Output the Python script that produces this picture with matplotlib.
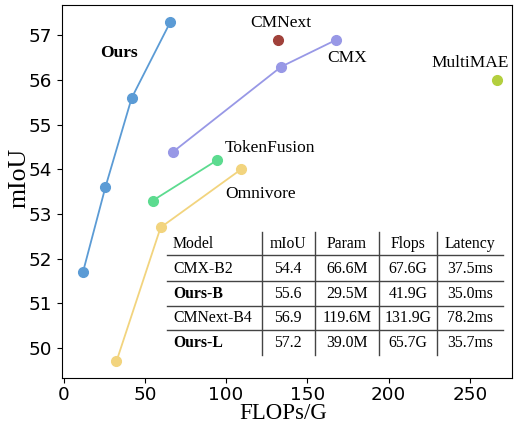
import matplotlib
matplotlib.use("Agg")
import matplotlib.pyplot as plt

# data (FLOPs in G, mIoU)
ours_flops = [11.9, 25.7, 41.9, 65.7]
ours_miou = [51.7, 53.6, 55.6, 57.3]
cmx_flops = [67.6, 134.0, 167.8]
cmx_miou = [54.4, 56.3, 56.9]
tokenfusion_flops = [54.8, 94.2]
tokenfusion_miou = [53.3, 54.2]
omnivore_flops = [32.5, 59.7, 109.2]
omnivore_miou = [49.7, 52.7, 54.0]
cmnext_flops = [131.9]
cmnext_miou = [56.9]
multimae_flops = [267.0]
multimae_miou = [56.0]

table_header = ["Model", "mIoU", "Param", "Flops", "Latency"]
table_rows = [
    ["CMX-B2", "54.4", "66.6M", "67.6G", "37.5ms"],
    ["Ours-B", "55.6", "29.5M", "41.9G", "35.0ms"],
    ["CMNext-B4", "56.9", "119.6M", "131.9G", "78.2ms"],
    ["Ours-L", "57.2", "39.0M", "65.7G", "35.7ms"],
]
bold_rows = {"Ours-B", "Ours-L"}

SERIF = "Liberation Serif"
W, H = 514, 423

fig = plt.figure(figsize=(W / 100, H / 100), dpi=100)
ax = fig.add_axes([62 / W, 1 - 378 / H, (512 - 62) / W, (378 - 5) / H])

kw = dict(marker="o", markersize=7, lw=1.3)
ax.plot(ours_flops, ours_miou, color="#5b9bd5", **kw)
ax.plot(cmx_flops, cmx_miou, color="#9898e6", **kw)
ax.plot(tokenfusion_flops, tokenfusion_miou, color="#5cdb8f", **kw)
ax.plot(omnivore_flops, omnivore_miou, color="#f2d47e", **kw)
ax.plot(cmnext_flops, cmnext_miou, ls="none", color="#a0413a", marker="o", markersize=7)
ax.plot(multimae_flops, multimae_miou, ls="none", color="#b3cf3e", marker="o", markersize=7)

tfs = 12.5
ax.text(34.3, 56.6, "Ours", fontsize=tfs, fontweight="bold", family=SERIF, ha="center", va="center")
ax.text(133.4, 57.28, "CMNext", fontsize=tfs, family=SERIF, ha="center", va="center")
ax.text(174.6, 56.5, "CMX", fontsize=tfs, family=SERIF, ha="center", va="center")
ax.text(250.0, 56.38, "MultiMAE", fontsize=tfs, family=SERIF, ha="center", va="center")
ax.text(99.0, 54.47, "TokenFusion", fontsize=tfs, family=SERIF, ha="left", va="center")
ax.text(99.5, 53.46, "Omnivore", fontsize=tfs, family=SERIF, ha="left", va="center")

ax.set_xlim(-1, 276)
ax.set_ylim(49.33, 57.68)
ax.set_xticks([0, 50, 100, 150, 200, 250])
ax.set_yticks([50, 51, 52, 53, 54, 55, 56, 57])
ax.tick_params(labelsize=13.2)
ax.tick_params(axis="x", pad=2)
ax.set_xlabel("FLOPs/G", fontsize=16.5, family=SERIF)
ax.set_ylabel("mIoU", fontsize=18.5, family=SERIF)
ax.xaxis.set_label_coords(0.491, -0.068)
ax.yaxis.set_label_coords(-0.071, 0.536)

# table drawn in pixel space (figure fraction)
def fx(px):
    return px / W

def fy(py):
    return 1 - py / H

col_x = [173, 288, 347, 408, 470]
col_ha = ["left", "center", "center", "center", "center"]
row_y = [244, 269, 294, 318, 343]
hlines = [255, 281, 306, 330]
vlines = [262, 315, 379, 437]
cfs = 11.3

for x, ha, t in zip(col_x, col_ha, table_header):
    fig.text(fx(x), fy(row_y[0]), t, fontsize=cfs, family=SERIF, ha=ha, va="center")
for y, row in zip(row_y[1:], table_rows):
    wt = "bold" if row[0] in bold_rows else "normal"
    for i, (x, ha, t) in enumerate(zip(col_x, col_ha, row)):
        fig.text(fx(x), fy(y), t, fontsize=cfs, family=SERIF, ha=ha, va="center",
                 fontweight=wt if i == 0 else "normal")
for y in hlines:
    fig.add_artist(plt.Line2D([fx(167), fx(503)], [fy(y), fy(y)], color="#444", lw=1.0))
for x in vlines:
    fig.add_artist(plt.Line2D([fx(x), fx(x)], [fy(232), fy(355)], color="#444", lw=1.0))

fig.savefig("out.png", dpi=100)
